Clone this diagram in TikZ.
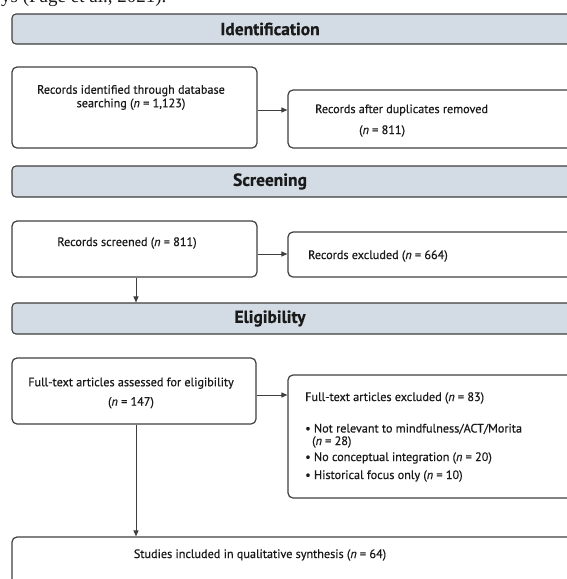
\documentclass[tikz,border=0pt]{standalone}
\usepackage{fontspec}
\setmainfont{PT Sans}[FakeBold=0.5]
\newfontfamily\topserif{Liberation Serif}
\usetikzlibrary{arrows.meta}
\definecolor{hdrfill}{HTML}{D3DCE4}
\definecolor{edge}{HTML}{3F3F3F}
\definecolor{ink}{HTML}{1A1A1A}
\tikzset{
  hdr/.style={draw=edge, line width=1.1pt, fill=hdrfill, rounded corners=4pt, inner sep=0pt},
  hdrtext/.style={text=ink, font=\fontsize{17.5}{20}\selectfont\bfseries, inner sep=0pt},
  box/.style={draw=edge, line width=1.2pt, fill=white, rounded corners=5pt, inner sep=0pt},
  txt/.style={text=ink, font=\fontsize{12.2}{13.5}\selectfont, inner sep=0pt},
  arr/.style={draw=edge, line width=1pt, -{Triangle[length=6pt,width=5pt]}}
}
\begin{document}
\begin{tikzpicture}[x=1pt,y=-1pt]
\useasboundingbox (0,0) rectangle (567,579);
\clip (0,0) rectangle (567,579);
\fill[white] (0,0) rectangle (567,579);
% cut-off line of running text above the figure
\node[anchor=base west, inner sep=0pt, text=ink, font=\topserif\fontsize{19}{21}\selectfont] (top) at (1,2.5) {ys (Page et al., 2021).};
% headers
\node[hdr, minimum width=600pt, minimum height=30pt] (h1) at (312,29) {};
\node[hdrtext] (h1t) at (270,29) {Identification};
\node[hdr, minimum width=600pt, minimum height=31pt] (h2) at (312,181.5) {};
\node[hdrtext] (h2t) at (270,181.5) {Screening};
\node[hdr, minimum width=600pt, minimum height=31pt] (h3) at (312,318.5) {};
\node[hdrtext] (h3t) at (270,318.5) {Eligibility};
% boxes
\node[box, minimum width=245pt, minimum height=81pt] (b1) at (134.5,107.5) {};
\node[box, minimum width=320pt, minimum height=58pt] (b2) at (448,119) {};
\node[box, minimum width=245pt, minimum height=56pt] (b3) at (134.5,249) {};
\node[box, minimum width=320pt, minimum height=45pt] (b4) at (448,254.5) {};
\node[box, minimum width=244pt, minimum height=66pt] (b5) at (134,391) {};
\node[box, minimum width=320pt, minimum height=123pt] (b6) at (448,436.5) {};
\node[box, minimum width=600pt, minimum height=80pt] (b7) at (312,577) {};
% texts
\node[txt, align=center] (t1) at (131,97.5) {Records identified through database\\searching (\textit{n} = 1,123)};
\node[txt, anchor=west] (t2a) at (315,110) {Records after duplicates removed};
\node[txt, anchor=west] (t2b) at (359,131) {(\textit{n} = 811)};
\node[txt] (t3) at (127,243) {Records screened (\textit{n} = 811)};
\node[txt, anchor=west] (t4) at (308,256) {Records excluded (\textit{n} = 664)};
\node[txt, align=center] (t5) at (131,393) {Full-text articles assessed for eligibility\\[6pt](\textit{n} = 147)};
\node[txt, anchor=west] (t6) at (305,398) {Full-text articles excluded (\textit{n} = 83)};
\node[txt, anchor=west] (t6a) at (305,429) {• Not relevant to mindfulness/ACT/Morita};
\node[txt, anchor=west] (t6b) at (312,442) {(\textit{n} = 28)};
\node[txt, anchor=west] (t6c) at (305,458) {• No conceptual integration (\textit{n} = 20)};
\node[txt, anchor=west] (t6d) at (305,476) {• Historical focus only (\textit{n} = 10)};
\node[txt] (t7) at (260,555) {Studies included in qualitative synthesis (\textit{n} = 64)};
% connectors
\draw[arr] (b1.east |- 0,110) -- (b2.west |- 0,110);
\draw[arr] (b3.east |- 0,254) -- (b4.west |- 0,254);
\draw[arr] (b5.east |- 0,395) -- (b6.west |- 0,395);
\draw[arr] (b3.south -| 136,0) -- (h3.north -| 136,0);
\draw[arr] (b5.south -| 136,0) -- (b7.north -| 136,0);
\end{tikzpicture}
\end{document}
